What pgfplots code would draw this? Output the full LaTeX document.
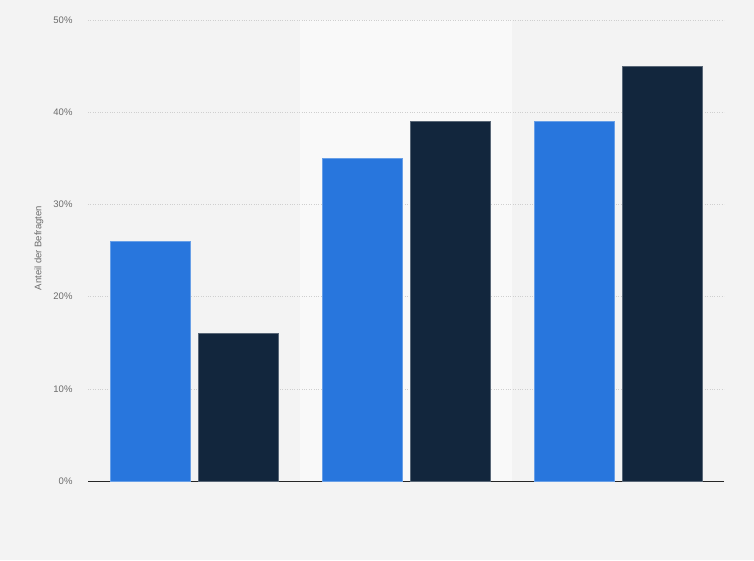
\documentclass[border=0pt]{standalone}
\usepackage{pgfplots}
\pgfplotsset{compat=1.18}
\usepackage{fontspec}
\setmainfont{Liberation Sans}

\definecolor{bg}{HTML}{F3F3F3}
\definecolor{band}{HTML}{F9F9F9}
\definecolor{blueA}{HTML}{2876DD}
\definecolor{navyA}{HTML}{12263D}
\definecolor{gridc}{HTML}{CFCFCF}
\definecolor{txt}{HTML}{6B6B6B}

\begin{document}
\begin{tikzpicture}
\fill[bg] (0,0) rectangle (754pt,560pt);
% lighter band behind the middle group
\fill[band] (300pt,79pt) rectangle (512pt,540pt);
\begin{axis}[
    at={(88pt,79pt)}, anchor=south west,
    scale only axis,
    width=636pt, height=461pt,
    ybar, bar width=80pt,
    xmin=-0.5, xmax=2.5,
    ymin=0, ymax=50,
    xtick=\empty,
    ytick={0,10,20,30,40,50},
    yticklabel={\pgfmathprintnumber{\tick}\%},
    /pgf/number format/assume math mode=true,
    yticklabel style={font=\fontsize{9.5}{11}\selectfont, text=txt, xshift=-12pt},
    ylabel={Anteil der Befragten},
    ylabel style={at={(axis description cs:-0.077,0.505)}, anchor=center,
        font=\fontsize{9.5}{11}\selectfont, text=txt},
    ymajorgrids,
    major grid style={gridc, dotted, line width=0.6pt},
    axis x line*=bottom,
    axis y line*=left,
    y axis line style={draw=none},
    x axis line style={black!85, line width=0.8pt, -},
    major tick length=0pt,
]
\addplot[fill=blueA, draw=blueA!70!white, line width=0.4pt, bar shift=-44pt]
    coordinates {(0,26) (1,35) (2,39)};
\addplot[fill=navyA, draw=navyA!70!white, line width=0.4pt, bar shift=44pt]
    coordinates {(0,16) (1,39) (2,45)};
\end{axis}
\end{tikzpicture}
\end{document}
